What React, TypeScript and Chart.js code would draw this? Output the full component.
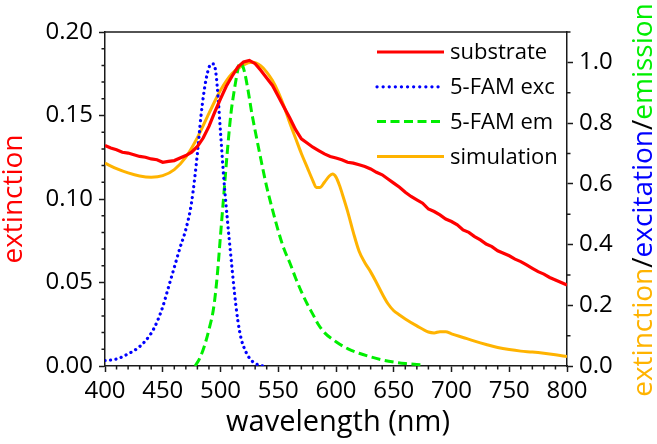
import { useEffect, useRef } from "react";
import { Chart, registerables } from "chart.js";

Chart.register(...registerables);

const FONT = "'Open Sans', 'Noto Sans', sans-serif";
const AXIS = "#1a1a1a";

const substrateNm = [
  400, 405, 410, 415, 420, 425, 430, 435, 440, 445, 450, 455, 460, 465, 470, 475, 480, 485, 490, 495,
  500, 505, 510, 515, 520, 525, 530, 535, 540, 545, 550, 555, 560, 565, 570, 575, 580, 585, 590, 595,
  600, 605, 610, 615, 620, 625, 630, 635, 640, 645, 650, 655, 660, 665, 670, 675, 680, 685, 690, 695,
  700, 705, 710, 715, 720, 725, 730, 735, 740, 745, 750, 755, 760, 765, 770, 775, 780, 785, 790, 795, 800,
];
const substrateExt = [
  0.132, 0.1305, 0.1295, 0.128, 0.1275, 0.1265, 0.1255, 0.125, 0.124, 0.1235, 0.122, 0.1225, 0.123, 0.1245, 0.126, 0.128, 0.1315, 0.1365, 0.1435, 0.152,
  0.16, 0.1675, 0.1735, 0.179, 0.182, 0.183, 0.181, 0.177, 0.1725, 0.168, 0.1615, 0.155, 0.1485, 0.1415, 0.136, 0.1335, 0.131, 0.129, 0.127, 0.1255,
  0.1245, 0.1235, 0.122, 0.1215, 0.1205, 0.1195, 0.118, 0.116, 0.1145, 0.112, 0.1095, 0.107, 0.104, 0.1015, 0.0995, 0.0975, 0.094, 0.0925, 0.0905, 0.088,
  0.0865, 0.0845, 0.0815, 0.08, 0.0775, 0.0755, 0.073, 0.0715, 0.069, 0.0675, 0.066, 0.064, 0.0625, 0.0605, 0.0585, 0.0565, 0.055, 0.053, 0.0515, 0.05, 0.0485,
];

const excNm = [
  400, 410, 420, 430, 440, 445, 450, 455, 460, 465, 470, 475, 480, 483, 486, 489, 492, 494, 496, 498,
  500, 503, 506, 509, 512, 515, 518, 521, 524, 528, 532, 536, 540,
];
const excVal = [
  0.018, 0.023, 0.04, 0.064, 0.108, 0.145, 0.195, 0.26, 0.325, 0.39, 0.45, 0.54, 0.7, 0.82, 0.91, 0.97, 0.995, 0.995, 0.965, 0.88,
  0.77, 0.61, 0.48, 0.36, 0.245, 0.15, 0.088, 0.055, 0.032, 0.014, 0.005, 0.001, 0,
];

const emNm = [
  478, 482, 486, 490, 494, 497, 500, 503, 506, 509, 512, 515, 517, 519, 521, 524, 527, 530, 535, 540,
  545, 550, 555, 560, 565, 570, 575, 580, 585, 590, 600, 610, 620, 630, 640, 650, 660, 670, 676,
];
const emVal = [
  0.0, 0.025, 0.065, 0.12, 0.19, 0.29, 0.43, 0.57, 0.71, 0.83, 0.91, 0.975, 1.0, 0.99, 0.965, 0.905, 0.835, 0.775, 0.68, 0.59,
  0.515, 0.445, 0.385, 0.34, 0.29, 0.245, 0.205, 0.17, 0.135, 0.11, 0.08, 0.057, 0.042, 0.03, 0.02, 0.013, 0.008, 0.005, 0.004,
];

const simNm = [
  400, 410, 420, 430, 440, 450, 460, 470, 480, 490, 500, 510, 520, 528, 535, 540, 545, 550, 555, 560,
  565, 570, 575, 580, 583, 586, 590, 594, 597, 600, 603, 606, 610, 615, 620, 625, 630, 635, 640, 645,
  650, 655, 660, 670, 680, 685, 690, 695, 700, 710, 720, 730, 740, 750, 760, 770, 780, 790, 800,
];
const simVal = [
  0.668, 0.65, 0.636, 0.626, 0.622, 0.627, 0.647, 0.688, 0.752, 0.832, 0.908, 0.963, 0.992, 1.0, 0.988, 0.968, 0.94, 0.902, 0.855, 0.8,
  0.75, 0.7, 0.655, 0.61, 0.588, 0.588, 0.605, 0.625, 0.632, 0.622, 0.595, 0.56, 0.51, 0.44, 0.378, 0.34, 0.31, 0.275, 0.238, 0.205,
  0.182, 0.168, 0.155, 0.132, 0.112, 0.109, 0.113, 0.113, 0.106, 0.094, 0.082, 0.071, 0.061, 0.054, 0.049, 0.046, 0.042, 0.037, 0.031,
];

const xTicksMajor = [400, 450, 500, 550, 600, 650, 700, 750, 800];

const RED = "#ff0000";
const BLUE = "#0000ff";
const GREEN = "#00ee00";
const ORANGE = "#ffb300";

const pairs = (xs: number[], ys: number[]) => xs.map((x, i) => ({ x, y: ys[i] }));

const decor = {
  id: "decor",
  afterDraw(chart: any) {
    const ctx: CanvasRenderingContext2D = chart.ctx;
    const a = chart.chartArea;
    const xs = chart.scales.x;
    const yl = chart.scales.y;
    const yr = chart.scales.y1;
    ctx.save();
    ctx.strokeStyle = AXIS;
    ctx.lineWidth = 1.5;
    ctx.beginPath();
    ctx.moveTo(a.left, a.top);
    ctx.lineTo(a.right, a.top);
    ctx.stroke();
    ctx.beginPath();
    for (let v = 400; v <= 800; v += 10) {
      if (v % 50 === 0) continue;
      const p = xs.getPixelForValue(v);
      ctx.moveTo(p, a.bottom);
      ctx.lineTo(p, a.bottom + 3.5);
    }
    for (let i = 0; i <= 20; i++) {
      if (i % 5 === 0) continue;
      const p = yl.getPixelForValue(i * 0.01);
      ctx.moveTo(a.left, p);
      ctx.lineTo(a.left - 3.5, p);
    }
    for (let i = 0; i <= 11; i++) {
      if (i % 2 === 0) continue;
      const p = yr.getPixelForValue(i * 0.1);
      ctx.moveTo(a.right, p);
      ctx.lineTo(a.right + 3.5, p);
    }
    ctx.stroke();

    const cy = (a.top + a.bottom) / 2;
    // left title
    ctx.font = `28px ${FONT}`;
    ctx.textBaseline = "alphabetic";
    ctx.save();
    ctx.translate(22, cy);
    ctx.rotate(-Math.PI / 2);
    ctx.textAlign = "center";
    ctx.fillStyle = RED;
    ctx.fillText("extinction", 0, 0);
    ctx.restore();

    // right title (multi-coloured)
    const parts: [string, string][] = [
      ["extinction", ORANGE],
      ["/", "#000"],
      ["excitation", BLUE],
      ["/", "#000"],
      ["emission", GREEN],
    ];
    ctx.save();
    ctx.translate(652, cy + 1);
    ctx.rotate(-Math.PI / 2);
    ctx.textAlign = "left";
    const total = parts.reduce((s, p) => s + ctx.measureText(p[0]).width, 0);
    let px = -total / 2;
    for (const [t, c] of parts) {
      ctx.fillStyle = c;
      ctx.fillText(t, px, 0);
      px += ctx.measureText(t).width;
    }
    ctx.restore();

    // x title
    ctx.font = `29px ${FONT}`;
    ctx.fillStyle = "#000";
    ctx.textAlign = "center";
    ctx.fillText("wavelength (nm)", (a.left + a.right) / 2 + 2, 431);

    // legend
    ctx.font = `22px ${FONT}`;
    ctx.textAlign = "left";
    ctx.textBaseline = "middle";
    chart.data.datasets.forEach((ds: any, i: number) => {
      const y = 52 + i * 34.8;
      ctx.save();
      ctx.strokeStyle = ds.borderColor;
      ctx.lineWidth = ds.borderWidth;
      ctx.lineCap = ds.borderCapStyle || "butt";
      ctx.setLineDash(ds.legendDash || ds.borderDash || []);
      ctx.beginPath();
      ctx.moveTo(377, y);
      ctx.lineTo(444, y);
      ctx.stroke();
      ctx.restore();
      ctx.fillStyle = "#000";
      ctx.fillText(ds.label, 450, y + 1);
    });
    ctx.restore();
  },
};

export default function App() {
  const ref = useRef<HTMLCanvasElement>(null);
  useEffect(() => {
    document.body.style.margin = "0";
    const tickFont = { family: FONT, size: 24 };
    const gridOpts = { drawOnChartArea: false, drawTicks: true, tickLength: 6, tickWidth: 1.5, tickColor: AXIS };
    const borderOpts = { display: true, color: AXIS, width: 1.5 };
    const chart = new Chart(ref.current as HTMLCanvasElement, {
      type: "line",
      data: {
        datasets: [
          {
            label: "substrate",
            data: pairs(substrateNm, substrateExt),
            yAxisID: "y",
            borderColor: RED,
            borderWidth: 3.2,
            pointRadius: 0,
            tension: 0,
          },
          {
            label: "5-FAM exc",
            data: pairs(excNm, excVal),
            yAxisID: "y1",
            borderColor: BLUE,
            borderWidth: 3.2,
            borderDash: [0.1, 5.4],
            legendDash: [0.1, 6],
            borderCapStyle: "round",
            pointRadius: 0,
            cubicInterpolationMode: "monotone",
          },
          {
            label: "5-FAM em",
            data: pairs(emNm, emVal),
            yAxisID: "y1",
            borderColor: GREEN,
            borderWidth: 3,
            borderDash: [9, 4.5],
            pointRadius: 0,
            cubicInterpolationMode: "monotone",
          },
          {
            label: "simulation",
            data: pairs(simNm, simVal),
            yAxisID: "y1",
            borderColor: ORANGE,
            borderWidth: 3,
            pointRadius: 0,
            cubicInterpolationMode: "monotone",
          },
        ],
      } as any,
      options: {
        animation: false,
        responsive: true,
        maintainAspectRatio: false,
        layout: { padding: { top: 32, left: 0, right: 0, bottom: 0 } },
        plugins: { legend: { display: false }, tooltip: { enabled: false } },
        scales: {
          x: {
            type: "linear",
            min: 400,
            max: 800,
            afterFit: (s: any) => {
              s.height = 78;
            },
            afterBuildTicks: (s: any) => {
              s.ticks = xTicksMajor.map((v) => ({ value: v }));
            },
            ticks: {
              font: tickFont,
              color: "#000",
              padding: 5,
              maxRotation: 0,
              autoSkip: false,
              callback: (v: any) => String(v),
            },
            grid: gridOpts,
            border: borderOpts,
          },
          y: {
            type: "linear",
            position: "left",
            min: 0,
            max: 0.2,
            afterFit: (s: any) => {
              s.width = 105;
            },
            ticks: {
              stepSize: 0.05,
              font: tickFont,
              color: "#000",
              padding: 6,
              callback: (v: any) => Number(v).toFixed(2),
            },
            grid: gridOpts,
            border: borderOpts,
          },
          y1: {
            type: "linear",
            position: "right",
            min: 0,
            max: 1.1,
            afterFit: (s: any) => {
              s.width = 90;
            },
            ticks: {
              stepSize: 0.2,
              includeBounds: false,
              font: tickFont,
              color: "#000",
              padding: 6,
              callback: (v: any) => Number(v).toFixed(1),
            },
            grid: gridOpts,
            border: borderOpts,
          },
        },
      } as any,
      plugins: [decor],
    });
    return () => chart.destroy();
  }, []);
  return (
    <div style={{ position: "absolute", left: 0, top: 0, width: 657, height: 444 }}>
      <canvas ref={ref} />
    </div>
  );
}
